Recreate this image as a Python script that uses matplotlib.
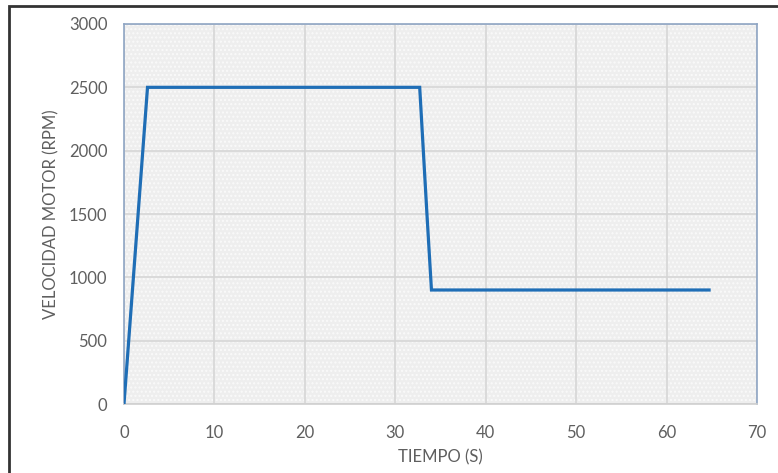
import matplotlib
matplotlib.use("Agg")
import matplotlib.pyplot as plt
from matplotlib.patches import Rectangle

# motor speed profile: ramp up, hold, drop, hold
tiempo = [0, 2.6, 32.7, 33.5, 34.0, 64.7]
velocidad = [0, 2500, 2500, 1500, 900, 900]

x_ticks = [0, 10, 20, 30, 40, 50, 60, 70]
y_ticks = [0, 500, 1000, 1500, 2000, 2500, 3000]

text_color = "#5F5F5F"
plt.rcParams['font.family'] = ['Lato', 'DejaVu Sans']

fig = plt.figure(figsize=(7.78, 4.73), dpi=100)
ax = fig.add_axes([124 / 778, 69 / 473, 633 / 778, 380 / 473])

# dotted light-gray plot background
ax.set_facecolor("#EEEEEE")
bg = Rectangle((0, 0), 1, 1, transform=ax.transAxes, facecolor="none",
               edgecolor="#FAFAFA", hatch="....", linewidth=0, zorder=0)
ax.add_patch(bg)

ax.plot(tiempo, velocidad, color="#1F6EB6", linewidth=2.3, zorder=3,
        solid_joinstyle="miter")

ax.set_xlim(0, 70)
ax.set_ylim(0, 3000)
ax.set_xticks(x_ticks)
ax.set_yticks(y_ticks)
ax.grid(True, color="#D6D6D6", linewidth=1.2, zorder=1)
ax.set_axisbelow(True)

ax.tick_params(length=0, colors=text_color, labelsize=12)
ax.tick_params(axis='y', pad=12)
ax.tick_params(axis='x', pad=15)

for side in ["left", "right", "top"]:
    ax.spines[side].set_color("#8FA5C4")
    ax.spines[side].set_linewidth(1.2)
ax.spines["bottom"].set_color("#D0D0D0")
ax.spines["bottom"].set_linewidth(1.2)

ax.set_xlabel("TIEMPO (S)", color=text_color, fontsize=12, labelpad=6)
ax.set_ylabel("VELOCIDAD MOTOR (RPM)", color=text_color, fontsize=12,
              labelpad=7)

# outer frame around the chart
frame = Rectangle((9 / 778, -0.05), 1.2, (473 - 6) / 473 + 0.05,
                  transform=fig.transFigure, facecolor="none",
                  edgecolor="#333333", linewidth=2, clip_on=False)
fig.patches.append(frame)

fig.savefig("out.png", dpi=100)
